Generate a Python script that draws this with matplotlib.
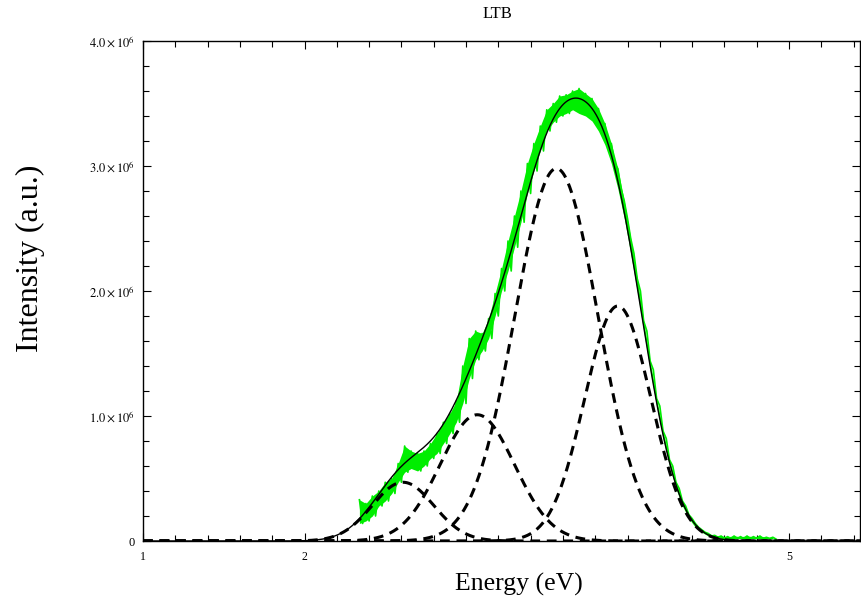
import numpy as np
import matplotlib
matplotlib.use("Agg")
import matplotlib.pyplot as plt
from matplotlib.ticker import MultipleLocator, FixedLocator

plt.rcParams['font.family'] = ['Liberation Serif', 'DejaVu Serif']
plt.rcParams['mathtext.fontset'] = 'stix'

# ---- data ----
# Gaussian components of the fit (energy in eV, amplitude in units of 1e6)
peak_centers = [2.61, 3.07, 3.56, 3.94]
peak_amplitudes = [0.47, 1.01, 2.98, 1.88]
peak_sigmas = [0.19, 0.23, 0.257, 0.205]

# measured spectrum (green): lower / upper envelope of the noisy trace (1e6 a.u.)
meas_energy = [2.34, 2.38, 2.42, 2.46, 2.50, 2.54, 2.58, 2.62, 2.66, 2.70,
               2.74, 2.78, 2.82, 2.86, 2.90, 2.94, 2.98, 3.02, 3.06, 3.10,
               3.14, 3.18, 3.22, 3.26, 3.30, 3.34, 3.38, 3.42, 3.46, 3.50,
               3.54, 3.58, 3.62, 3.66, 3.70, 3.74, 3.78, 3.82, 3.86, 3.90,
               3.94, 3.98, 4.02, 4.06, 4.10, 4.14, 4.18, 4.22, 4.26, 4.30,
               4.34, 4.38, 4.42, 4.46, 4.50, 4.54, 4.58, 4.62, 4.66, 4.70,
               4.74, 4.78, 4.82, 4.86, 4.90]
meas_low = [0.14, 0.16, 0.20, 0.28, 0.32, 0.38, 0.47, 0.55, 0.58, 0.56,
            0.60, 0.66, 0.70, 0.78, 0.86, 0.95, 1.10, 1.30, 1.45, 1.52,
            1.62, 1.80, 2.00, 2.16, 2.35, 2.55, 2.78, 2.96, 3.12, 3.28,
            3.35, 3.40, 3.42, 3.45, 3.42, 3.40, 3.36, 3.28, 3.17, 3.02,
            2.82, 2.58, 2.30, 2.00, 1.68, 1.37, 1.08, 0.82, 0.60, 0.42,
            0.28, 0.18, 0.11, 0.07, 0.04, 0.03, 0.02, 0.02, 0.02, 0.02,
            0.02, 0.02, 0.02, 0.02, 0.015]
meas_high = [0.33, 0.30, 0.36, 0.40, 0.47, 0.50, 0.62, 0.76, 0.72, 0.70,
             0.72, 0.78, 0.86, 0.95, 1.02, 1.12, 1.40, 1.62, 1.68, 1.66,
             1.78, 1.98, 2.18, 2.40, 2.60, 2.80, 3.02, 3.18, 3.32, 3.45,
             3.50, 3.56, 3.57, 3.60, 3.62, 3.58, 3.54, 3.46, 3.34, 3.18,
             2.98, 2.72, 2.42, 2.10, 1.76, 1.44, 1.14, 0.88, 0.65, 0.47,
             0.32, 0.21, 0.14, 0.09, 0.06, 0.045, 0.04, 0.035, 0.04, 0.035,
             0.04, 0.035, 0.04, 0.03, 0.03]

x_ticks = [1, 2, 5]
y_ticks = [0, 1e6, 2e6, 3e6, 4e6]
y_ticklabels = ['0', r'$1.0\times10^{6}$', r'$2.0\times10^{6}$',
                r'$3.0\times10^{6}$', r'$4.0\times10^{6}$']
scale = 1e6

# ---- figure ----
W, H = 861, 602
fig = plt.figure(figsize=(W / 100, H / 100), dpi=100)
ax = fig.add_axes([143 / W, 61 / H, 717 / W, 500 / H])

E = np.linspace(1.0, 5.45, 1500)
comps = [a * scale * np.exp(-(E - c) ** 2 / (2 * s ** 2))
         for c, a, s in zip(peak_centers, peak_amplitudes, peak_sigmas)]

# noisy green trace: zig-zag between envelopes
me = np.asarray(meas_energy)
lo = np.asarray(meas_low) * scale
hi = np.asarray(meas_high) * scale
zx = np.empty(2 * len(me))
zy = np.empty(2 * len(me))
zx[0::2] = me
zx[1::2] = me + 0.02
zy[0::2] = hi
zy[1::2] = lo
ax.fill_between(me, lo, hi, color='#00ee00', lw=0, zorder=2)
ax.plot(zx, zy, color='#00ee00', lw=1.2, zorder=2)

for comp in comps:
    ax.plot(E, comp, color='black', lw=2.2, ls=(0, (3.2, 2.2)), zorder=3)
ax.plot(E, np.sum(comps, axis=0), color='black', lw=1.0, zorder=4)

ax.set_xlim(1.0, 1 + 717 / 161.5)
ax.set_ylim(0, 4e6)

ax.xaxis.set_major_locator(FixedLocator(x_ticks))
ax.xaxis.set_minor_locator(MultipleLocator(0.2))
ax.yaxis.set_major_locator(FixedLocator(y_ticks))
ax.yaxis.set_minor_locator(MultipleLocator(0.2e6))
ax.set_xticklabels([str(t) for t in x_ticks])
ax.set_yticklabels(y_ticklabels)

ax.tick_params(which='both', direction='in', top=True, right=True,
               labelsize=9, width=0.8)
ax.tick_params(which='major', length=6)
ax.tick_params(which='minor', length=4)
ax.tick_params(axis='x', pad=7, labelsize=8.5)
ax.tick_params(axis='y', pad=6)
for sp in ax.spines.values():
    sp.set_linewidth(1.0)

fig.text(497 / W, 1 - 14 / H, 'LTB', fontsize=12, ha='center', va='center')
fig.text(519 / W, 1 - 584 / H, 'Energy (eV)', fontsize=18.5,
         ha='center', va='center')
fig.text(30 / W, 1 - 258 / H, 'Intensity (a.u.)', fontsize=23,
         ha='center', va='center', rotation=90)

fig.savefig('out.png', dpi=100)
